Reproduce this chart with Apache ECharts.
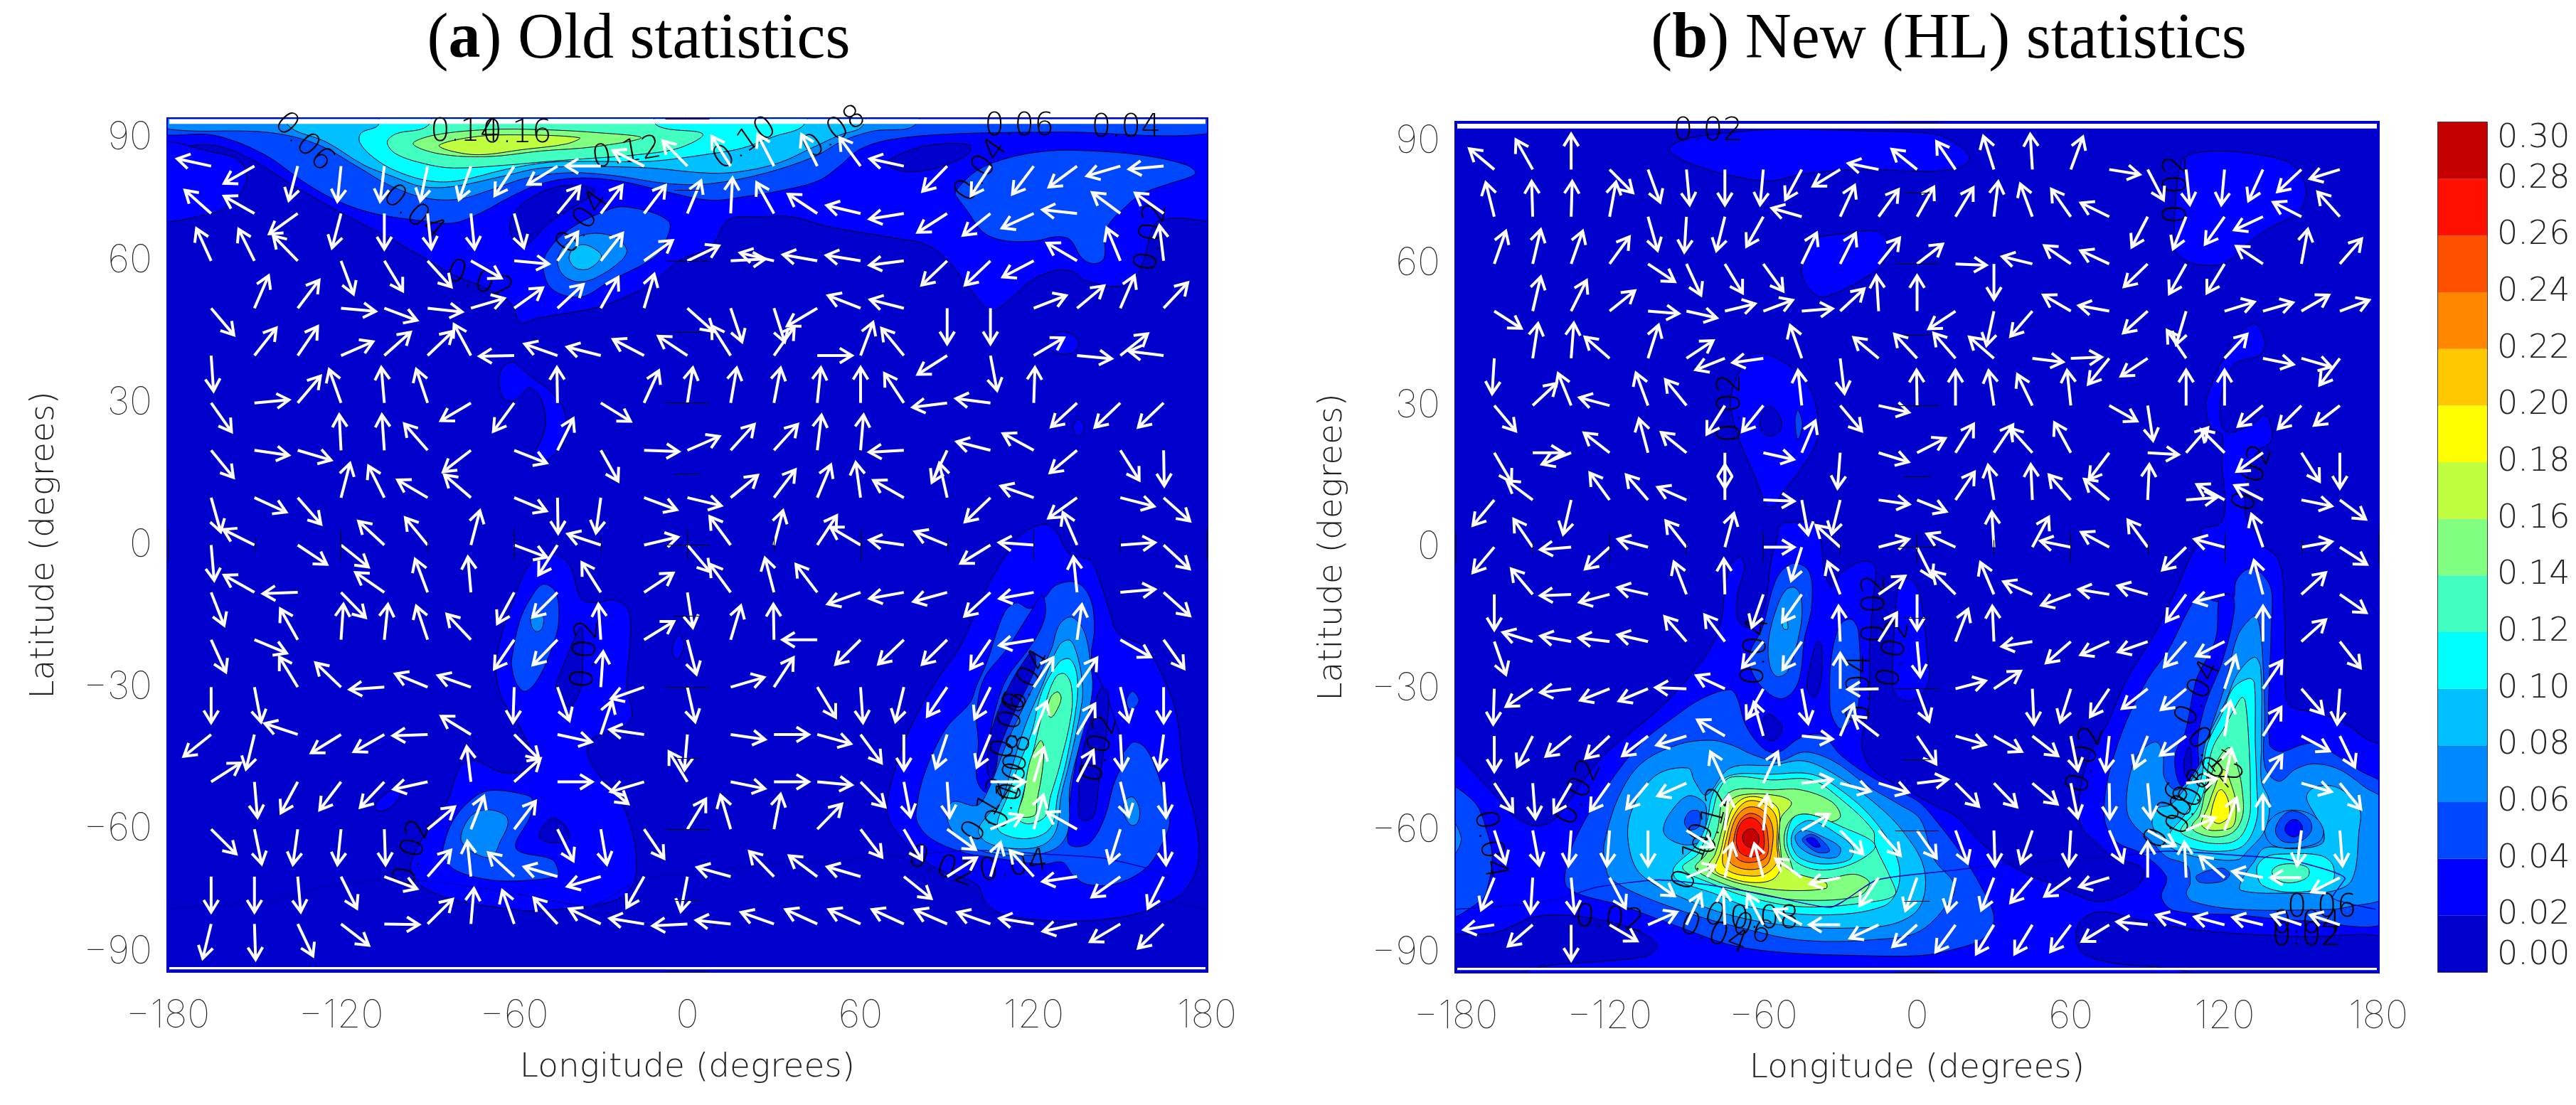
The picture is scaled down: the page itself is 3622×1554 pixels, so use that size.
<!DOCTYPE html>
<html>
<head>
<meta charset="utf-8">
<title>Old and new statistics</title>
<script src="https://cdn.jsdelivr.net/npm/echarts@6/dist/echarts.min.js"></script>
<style>
  html, body { margin: 0; background: #fff; }
  #chart { width: 3622px; height: 1554px; }
</style>
</head>
<body>
<div id="chart"></div>
<script>
var lonTails = [-165,-150,-135,-120,-105,-90,-75,-60,-45,-30,-15,0,15,30,45,60,75,90,105,120,135,150,165];
var latTails = [80,70,60,50,40,30,20,10,0,-10,-20,-30,-40,-50,-60,-70,-80];

// arrow headings in degrees, one row per latitude
var headingsA = [
  [168,209,255,264,263,258,250,236,211,180,154,135,123,118,117,127,168,225,236,232,216,196,185],
  [139,151,215,255,270,276,276,286,50,52,52,67,87,120,147,167,189,212,218,204,174,144,145],
  [115,117,135,291,302,313,331,355,54,51,35,25,3,167,170,171,187,223,223,207,150,113,97],
  [311,66,52,355,340,354,16,35,42,60,73,319,289,288,210,159,166,270,270,21,39,66,46],
  [274,51,55,23,41,43,119,181,161,166,153,147,123,54,0,69,130,212,281,30,355,38,173],
  [306,5,49,110,95,109,210,233,91,329,65,81,80,79,84,90,124,187,173,88,222,223,223],
  [310,352,344,93,94,132,217,339,63,300,358,23,47,47,83,85,183,244,166,152,219,303,271],
  [286,336,312,75,117,150,140,338,271,262,340,347,39,52,67,98,151,103,223,161,215,346,319],
  [275,154,327,322,138,130,75,340,237,162,13,311,127,75,56,150,172,158,211,176,114,4,318],
  [292,151,182,315,146,111,95,241,224,123,33,279,127,105,128,199,190,195,222,190,96,5,319],
  [295,338,120,86,84,109,134,235,225,94,31,285,73,91,180,224,223,224,235,189,82,331,306],
  [270,281,122,137,184,158,161,268,290,86,199,283,16,56,302,274,256,235,243,56,55,284,270],
  [218,256,162,211,209,182,149,316,348,71,172,265,352,0,345,307,270,251,247,68,59,273,262],
  [32,275,241,232,226,192,97,41,0,322,196,122,349,0,355,315,281,274,0,73,62,284,274],
  [316,282,262,264,272,39,68,52,297,280,305,58,107,79,45,308,301,325,23,74,151,252,274],
  [270,270,275,297,340,48,96,138,164,196,240,259,165,135,144,164,322,32,73,133,188,215,243],
  [256,272,296,323,359,44,85,110,133,155,171,183,174,161,156,156,156,157,161,171,192,210,223]
];
var headingsB = [
  [144,123,90,319,293,276,270,264,238,208,170,145,128,110,94,67,352,301,277,264,242,219,195],
  [106,92,88,78,288,266,254,237,166,62,50,57,55,82,113,129,157,239,245,231,202,156,136],
  [68,75,68,50,330,298,305,310,61,60,47,34,358,270,168,149,158,220,237,235,150,78,45],
  [331,75,60,35,356,349,12,18,4,39,94,90,210,256,225,153,171,218,251,15,14,27,18],
  [266,80,85,143,70,30,199,187,112,278,144,137,135,143,354,2,227,210,128,43,350,346,229],
  [314,39,115,167,113,133,234,227,97,314,349,91,90,100,119,97,334,280,90,90,216,221,214],
  [304,0,199,146,107,145,270,349,64,265,345,24,54,52,136,122,229,357,45,139,212,306,270],
  [226,147,255,130,135,159,90,358,282,254,353,341,52,101,93,135,144,87,4,154,156,350,327],
  [226,128,184,218,167,132,73,0,250,142,13,300,158,94,58,170,155,130,220,167,112,9,331],
  [270,134,182,193,169,114,92,248,231,114,31,270,139,116,159,198,172,166,230,192,107,38,329],
  [292,165,171,174,169,135,131,227,232,93,54,276,66,93,188,217,202,197,225,204,90,38,312],
  [268,210,186,199,200,178,158,237,282,90,181,293,13,30,273,250,232,214,216,69,52,315,265],
  [270,240,215,219,214,195,153,108,355,64,146,308,346,334,326,283,263,245,213,79,54,335,299],
  [307,275,236,231,226,201,118,62,6,347,345,6,319,318,324,283,271,276,7,77,52,346,313],
  [291,282,265,265,270,332,83,83,27,318,315,309,293,272,248,266,296,334,21,67,90,262,275],
  [245,266,276,301,329,20,76,107,148,190,232,248,255,246,225,212,195,90,93,143,170,180,204],
  [188,217,270,333,21,62,93,121,154,180,202,218,230,235,235,229,208,175,164,167,168,164,164]
];

var bandColors = ['#0000CC','#0000FF','#0048FF','#0088FF','#00C0FF','#00FFFF','#40FFC0','#80FF80','#BFFF40','#FFFF00','#FFC800','#FF8800','#FF5000','#FF1000','#C40000'];
var barTicks = [0,0.02,0.04,0.06,0.08,0.10,0.12,0.14,0.16,0.18,0.20,0.22,0.24,0.26,0.28,0.30];

// filled contours: [band, [[lon,lat],...]], painted in order
var contoursA = [
  [1,[[-185,84.7],[-164,84.4],[-151,81.4],[-136,75.7],[-120,70.2],[-106,65.7],[-91,60.6],[-81,57],[-71,54.6],[-61,51],[-58,47],[-52,47.9],[-35.5,49.6],[-27,51],[-13,55],[-3,60],[8,63],[14.3,68.7],[25,69.3],[36,69.3],[49,67.2],[72,64.8],[82,63.6],[89.5,60.6],[98,54],[105,49.6],[110,51],[119,55.8],[128,58],[134,57.6],[138,55.8],[150,54.6],[155,56.4],[158,60],[162,67.8],[168,69],[185,69.6],[185,95],[-185,95]]],
  [2,[[-185,87.4],[-164,86.5],[-147,82.6],[-132,76.3],[-121,72.6],[-108.5,70],[-91,68.4],[-81,68],[-72,70],[-61,73.6],[-50.6,76.3],[-38,77.5],[-23,76.8],[-6.6,74.5],[8,72.8],[20.2,73.6],[32.2,74.8],[45.3,76.9],[52.5,79.9],[59.6,83.5],[70.4,85.6],[92,86.8],[127.7,87.2],[185,87.4],[185,95],[-185,95]]],
  [3,[[-185,88.6],[-145,87.1],[-128.6,84.7],[-113.5,79.6],[-103.4,76],[-91,73.3],[-79.5,73],[-68,75],[-55.7,77.5],[-40.6,78.6],[-25.5,78],[-6.6,76.3],[8,76.3],[26.2,78.4],[44,82],[53.7,85.3],[64.4,87.4],[78.7,88.6],[80,95],[-185,95]]],
  [4,[[-138.6,88.8],[-124.8,85],[-112,80.2],[-102,77.8],[-92,75.7],[-81,75.7],[-63,78],[-50.6,79.6],[-32,79.9],[-13,79.6],[8,78.5],[20,79],[32.2,80.8],[43,83.8],[52.5,86.5],[60.8,88.6],[61,95],[-138,95]]],
  [5,[[-107,88.8],[-113,87],[-113.5,85],[-108.5,81.7],[-101,79],[-89.6,76.9],[-79.5,76.9],[-63,79.3],[-48,80.8],[-32,81],[-13,81],[8,82.6],[19,83.8],[29.8,86.2],[40.5,88.8],[41,95],[-107,95]]],
  [6,[[-101,86.8],[-104,85],[-101,82.6],[-91,80.5],[-81,79.6],[-63,80.2],[-48,81],[-32,81.7],[-19,82.3],[-3,83.8],[5.3,86.8],[-11,88.8],[-11,95],[-85,95],[-90,88.5]]],
  [7,[[-95,84.7],[-88,86.5],[-69.5,87.7],[-50.6,87.7],[-32,87.1],[-16,86],[-32,84.1],[-50.6,83.2],[-69.5,82],[-86,82.6]]],
  [8,[[-86,84.4],[-76,86],[-63,86.6],[-37.4,86],[-41.8,84.7],[-57,83.5],[-72,82.4],[-82,83.2]]],
  [0,[[69.2,80.8],[75.2,82.9],[84.7,84.5],[97.9,84.5],[97.3,82.6],[89.5,80.2],[78.7,78.8],[71.6,79.4]]],
  [2,[[93,74.8],[100.2,79],[111,81.7],[125.3,83.2],[139.6,83.2],[157.5,82.3],[173,80.2],[176,78.4],[167,76.3],[158.7,74.5],[152.8,72],[145,66.6],[144.4,60.6],[140.8,59.4],[136.7,60.6],[132.5,64.5],[127.7,65.1],[120.5,64.2],[109.8,64.3],[102.6,66],[96.7,70.8],[93,73.9]]],
  [0,[[-40.6,76],[-32,75],[-34.3,73.3],[-46.9,68.4],[-57,63],[-61.3,66],[-60,70.2],[-50.6,74.5]]],
  [1,[[-185,84.4],[-164,82.9],[-155,81],[-152.7,77.2],[-157.5,72.6],[-165,70],[-185,69.3]]],
  [2,[[-21.7,71.4],[-6.6,68.4],[-7.9,63.6],[-11.7,60.6],[-26.7,55.8],[-36.8,52.4],[-46.8,54],[-50,58.8],[-48,62.4],[-41,66.6],[-30.5,70]]],
  [3,[[-45,60],[-42,63.6],[-34.3,65.7],[-25.5,65.1],[-21,62.4],[-23,60],[-31.8,56.4],[-38,55.6],[-43,57]]],
  [4,[[-41,60.6],[-39.3,62.7],[-35.5,63.4],[-30.5,61.8],[-29.9,60.6],[-34.3,58.3],[-38.7,58.5]]],
  [1,[[-65,33.2],[-64.5,37],[-60.7,38.6],[-57,37],[-53.8,35.3],[-48,32.8],[-42.5,28],[-43,21.4],[-49.4,17.8],[-53.8,17.8],[-49.4,24.4],[-50,29.8],[-54.4,33.2],[-59.4,30.7],[-63.2,30.7]]],
  [1,[[124.7,42.5],[126.5,44.3],[129.5,45],[133.7,44.3],[135.5,42.5],[133.7,40.7],[127.7,40.6]]],
  [1,[[133.7,25],[135.5,26.6],[137.3,25.3],[137,23.8],[135,23.2]]],
  [1,[[-55.7,-5.1],[-52,-2.4],[-45.6,-2],[-40.6,-4.5],[-36.8,-11.3],[-31.8,-12.2],[-25.5,-11.6],[-20.5,-13.7],[-19.8,-20.5],[-21,-29.7],[-19.2,-35.8],[-21.7,-38.2],[-29.2,-39.8],[-33.7,-41.3],[-34.5,-44.4],[-30.5,-48.7],[-24.2,-53],[-19.2,-60.3],[-17.7,-68.9],[-20.5,-73.2],[-28,-75.6],[-44.3,-76.9],[-55.7,-77.2],[-69.5,-76.2],[-82,-74.7],[-92,-72],[-95.9,-68.3],[-94.6,-65.2],[-89.6,-59.7],[-83.3,-54.2],[-78.3,-46.5],[-73.3,-45.6],[-64.5,-48],[-58.2,-48],[-52,-46.2],[-55.7,-41.3],[-59.4,-37],[-64.5,-32],[-66.3,-26],[-64.5,-19.2],[-60.7,-12.5],[-58.2,-8.2]]],
  [0,[[-45.6,-29.7],[-42.5,-24.7],[-36.8,-17.4],[-36.2,-23.5],[-36.8,-29.7],[-40,-34],[-42.5,-33.6],[-45,-30.9]]],
  [0,[[-51.3,-61],[-49.4,-58.8],[-46.2,-57.7],[-41.8,-59.7],[-41.2,-62],[-46.9,-62.9],[-50.9,-62]]],
  [1,[[-107.8,-54.5],[-103.4,-52],[-99,-51.4],[-100.9,-54.2],[-104.7,-56],[-107.8,-56]]],
  [1,[[-5.1,-21.4],[-3.1,-19.1],[-1.2,-20.5],[-2.9,-24.1],[-4.7,-23.5]]],
  [2,[[-60.7,-23.5],[-58.2,-16.2],[-54.4,-11.3],[-50,-8.3],[-45.6,-10],[-44.6,-16.2],[-46.9,-21.7],[-51.9,-28.4],[-56.3,-30.9],[-59.4,-29],[-60.9,-25.4]]],
  [3,[[-54,-15],[-50.2,-14.8],[-50.2,-17.4],[-52,-18.3],[-53.8,-17.4]]],
  [2,[[-84.6,-64],[-80.8,-57.8],[-73.3,-53],[-67.6,-51.8],[-57,-52.6],[-53.8,-53.6],[-54.4,-57.2],[-59.4,-64],[-46.9,-66.4],[-45,-68.3],[-45,-69.8],[-55.7,-70.8],[-68.2,-70.7],[-79.5,-68.9],[-84,-66.4]]],
  [3,[[-78.5,-62],[-75,-57.2],[-69.5,-55.9],[-63.2,-57],[-62.2,-59],[-65,-62.8],[-67,-65.5],[-69.5,-66],[-75,-64.6]]],
  [1,[[123.5,4.4],[127.7,2.8],[132.5,-2],[139.6,-3.3],[143.2,-8.2],[146.8,-15],[149.2,-18.6],[158.7,-21.7],[164.7,-27.8],[169.5,-35.8],[171.9,-48],[176.7,-60.3],[176.7,-67.7],[171.9,-73.2],[163.5,-76.2],[151.6,-78.4],[134.9,-79.4],[119.3,-79],[108.6,-77.8],[103.2,-75.3],[100.2,-71.6],[84.7,-67.7],[72.8,-60.9],[69.2,-56],[71.6,-48],[77.6,-38.2],[85.9,-29],[94.3,-21.7],[100.2,-13.7],[105,-7.6],[109.8,-2.7],[115.8,2.2]]],
  [2,[[79.3,-56],[82.3,-48],[89.5,-38.8],[97.9,-33.3],[100.2,-29.7],[103.8,-24.7],[109.8,-14.3],[114,-12.2],[118.7,-13.4],[123.5,-11.3],[127.7,-8.5],[134.9,-7.9],[139.6,-11.3],[141,-17.4],[140.2,-24.7],[150.4,-43.7],[154.6,-41.6],[159,-43.1],[163.5,-49.3],[167.1,-57.8],[164.7,-62.8],[158.7,-68.3],[148,-71.6],[138.4,-71.6],[133.7,-69.8],[130,-67],[122.9,-67.4],[103.8,-65.8],[95.5,-64.9],[84.7,-62.1],[80,-59]]],
  [1,[[118.7,-14.3],[122.9,-10.6],[124.1,-14.3],[121.7,-18.6],[117,-22.9],[111,-27.8],[107.4,-33.3],[105,-40.7],[106.8,-48],[111,-49.9],[103.8,-52.3],[100.2,-49.3],[100.8,-41.9],[100.2,-35.8],[102.6,-28.4],[111,-21.7]]],
  [0,[[103.8,-47.4],[105,-40],[111,-30.3],[118.1,-23.2],[120,-22.6],[120.5,-26],[113.4,-35.2],[108,-43.1],[106.8,-47.4],[105,-49]]],
  [1,[[131.9,-62.8],[132.5,-54.2],[134.9,-45],[137.8,-35.8],[140.2,-26],[151,-43.7],[147.4,-51.1],[144.4,-57.8],[139.6,-62.8],[134.9,-63.7]]],
  [0,[[135.5,-56.6],[136.7,-45],[140.2,-35.8],[143.2,-30.3],[145.6,-30.9],[145.6,-37],[142.6,-49.9],[140.8,-57.2],[137.3,-58.2]]],
  [3,[[151,-56],[152.2,-53.6],[154.6,-53.3],[156.7,-56],[155.8,-58.8],[153.4,-59]]],
  [2,[[152.2,-32.7],[154.2,-30.9],[156.4,-32.7],[154.9,-34.4],[153,-34.6]]],
  [3,[[90,-57.8],[91.9,-54.2],[100.2,-55],[103.8,-52.3],[111,-41.3],[118.1,-32.1],[125.9,-22.3],[128.9,-16.8],[133,-15.2],[137.3,-18],[139.6,-24.7],[140.2,-31.5],[135.5,-43.1],[132.5,-51.1],[131.9,-60.3],[127.7,-64],[118.1,-65.5],[103.8,-64.9],[94.3,-62.1]]],
  [4,[[100.8,-60.3],[103.8,-57.2],[108.6,-54.2],[112.2,-47.4],[117,-38.2],[122.9,-29.7],[128.9,-21.1],[132.5,-20.1],[134.9,-22.9],[136.7,-28.4],[136.7,-33.3],[132.5,-45.6],[129.5,-52.9],[127.7,-60.3],[122.9,-63.4],[113.4,-64.1],[103.8,-62.8]]],
  [5,[[107.4,-59.7],[111,-52.9],[114.6,-46.8],[119.3,-39.5],[122.9,-30.9],[128.9,-24.7],[132.5,-24.1],[134.9,-27.2],[134.9,-33.3],[131.3,-45.6],[128.3,-52.9],[126.5,-59],[121.7,-61.5],[113.4,-61.8]]],
  [6,[[114.6,-57.2],[116.4,-52.3],[120.5,-41.9],[124.1,-33.3],[127.7,-27.8],[130.7,-27.2],[133,-29.7],[133,-35.8],[128.9,-46.8],[125.9,-52.9],[124.1,-57.2],[119.3,-58.8],[115.8,-58.5]]],
  [7,[[114.6,-56.9],[116.4,-52.9],[118.7,-45.6],[122.3,-41.3],[123.5,-42.5],[122.9,-48],[121.1,-54.2],[120.5,-56.9],[117,-57.5]]],
  [7,[[124.7,-35.2],[125.9,-32.1],[128.3,-31],[129.5,-32.4],[127.7,-35.2],[125.9,-36.4]]]
];

var contoursB = [
  [1,[[-96.5,84.5],[-89.4,86.6],[-65.3,88.2],[-51.1,88.6],[-22.8,88.2],[5.5,87.6],[13.6,86],[20.4,82.7],[17.3,80.6],[7.4,79.7],[-1.6,79.7],[-22.8,80],[-44,79.1],[-56.8,77.6],[-71,78.5],[-85,80.6],[-93.6,82.7]]],
  [1,[[-44.8,60],[-41.2,64.9],[-28.5,66.4],[-15.7,66.9],[-11.8,64.9],[-12.9,60.6],[-18.6,57.6],[-36.3,53],[-42,54.6],[-44.8,57.6]]],
  [1,[[-69.5,37],[-66.7,39.5],[-61.8,41.1],[-51.1,38.9],[-42,33.7],[-38.8,28],[-39.1,22.5],[-45.5,16.5],[-52.5,11.6],[-56.1,8.6],[-58.9,8.9],[-62.5,14],[-68.8,21.9],[-72.4,28.6],[-72.4,32.8]]],
  [0,[[-61.3,26.8],[-59.6,29.2],[-56.8,29.8],[-53.3,27.3],[-53.3,24.9],[-56.8,23.5],[-60.3,24.3]]],
  [2,[[-47.6,26.7],[-46.5,29],[-44.8,26.1],[-46.5,22.8]]],
  [1,[[104.7,82.7],[116.5,83.9],[131.3,83.3],[143.7,81.8],[149.3,79.4],[151.8,75.2],[148.7,70.9],[137.5,67.6],[128.9,64.3],[120.2,60.3],[112.7,59.7],[105.3,60.6],[101,62.7],[100.4,67.9],[101,73.9],[102.2,79.4]]],
  [1,[[-185,-43.4],[-164.4,-52.7],[-157.3,-57],[-148,-59.1],[-140.3,-57],[-130.4,-49.6],[-122,-44],[-110.6,-38.8],[-99.3,-33.6],[-85.1,-25],[-78.8,-19.5],[-75.9,-13.9],[-75.2,-9.6],[-73.1,-4.1],[-69.1,-2.1],[-67.4,-4.1],[-70.3,-10.8],[-69.5,-15.8],[-64.6,-17],[-59.6,-12.7],[-56.8,-2.2],[-54.7,1.45],[-53.3,4.7],[-46.9,5.3],[-39.8,5.3],[-37.7,2.5],[-36.3,-4.7],[-33.4,-8.4],[-29.9,-5.6],[-21.4,-3],[-16.4,-4.1],[-17.2,-10.8],[-18.6,-23.2],[-18.6,-33],[-20.7,-37.9],[-21.4,-42.8],[-17.2,-47.1],[-4.4,-51.4],[8.3,-55.1],[15.1,-57],[26,-63.1],[38.4,-68],[59.5,-73],[70.6,-75.1],[80.5,-73.6],[88,-70.5],[88,-68],[75.6,-65.3],[70.6,-62.8],[64.4,-59.4],[63.2,-53.9],[66.9,-44.7],[74.3,-37.3],[81.8,-28.1],[92.9,-18.2],[101.6,-8.4],[106.6,-2.2],[110.3,1.45],[111.5,3.8],[118.3,5],[120.2,8.6],[119,17.7],[119,23.7],[114.6,25.5],[112.8,29.2],[113.4,32.2],[119.6,40],[125.1,44.9],[131.3,47.3],[133.8,46.4],[135.7,43.1],[133.8,40.7],[123.9,38.8],[119,32.8],[118.3,28],[119.6,24.9],[123.3,24.3],[132.6,26.7],[135,28],[137.5,27],[138.2,22.5],[132.6,20.1],[128.9,14.6],[128.2,6.8],[132.6,2.6],[134.4,0.8],[141.2,-2.9],[143.1,-10.9],[143.7,-23.2],[144,-31.8],[146.2,-33.9],[156.1,-35.1],[166,-37],[174.7,-40.4],[185,-44],[185,-95],[-185,-95]]],
  [0,[[-185,-83.3],[-164.4,-81.6],[-150.3,-78.5],[-139,-77.9],[-122,-79.1],[-107.8,-81.6],[-101.4,-84.3],[-105,-86.5],[-122,-87.7],[-147.4,-89],[-185,-95]]],
  [0,[[62,-82.8],[63.2,-79.7],[68.2,-77.6],[74.3,-77.3],[88,-79.1],[112.7,-81.3],[150,-82.5],[185,-83.4],[185,-95],[92.9,-88.9],[75.6,-88],[64.4,-85.9]]],
  [2,[[-185,-50.5],[-172.9,-53.9],[-168,-60],[-165.8,-65.6],[-167.2,-71.1],[-170,-74.8],[-185,-78.2]]],
  [3,[[-185,-55.7],[-177.9,-61.9],[-185,-67.5]]],
  [2,[[-136.8,-67.4],[-131.8,-60],[-122,-51.4],[-107.8,-41.6],[-93.6,-35.5],[-83.7,-32],[-73,-30.2],[-70.3,-31.8],[-66.7,-37.9],[-59.6,-42.8],[-54,-43.4],[-45.5,-40.4],[-37,-39.8],[-29.9,-44],[-18.6,-48.4],[-5.8,-52],[1.24,-54.2],[8.7,-58.8],[17.3,-65],[24.8,-71.7],[30,-78.5],[26,-82.8],[13.6,-85.3],[1.2,-86.5],[-22.8,-86.5],[-51.1,-85.9],[-72.4,-84.3],[-93.6,-80.3],[-114.9,-76],[-136.1,-72.3]]],
  [2,[[-60.3,-17],[-56.8,-9.6],[-53.3,-5.3],[-47.6,-3.4],[-42,-5.3],[-41.2,-12.7],[-44,-19.5],[-45.5,-26.8],[-48.3,-30.5],[-53.3,-32.1],[-59.6,-30.2],[-64.6,-26.2],[-65.3,-22.5]]],
  [3,[[-57.9,-19.5],[-54.7,-12.7],[-51.1,-9],[-47.6,-8.6],[-45.2,-10.8],[-45.5,-17],[-50.4,-26.2],[-54.7,-27.4],[-57.5,-25]]],
  [4,[[-52.6,-15.5],[-51.1,-15.2],[-50.4,-17.3],[-52.1,-17.3]]],
  [0,[[-42.6,-27.4],[-39.1,-20.1],[-37.3,-20.7],[-37.3,-27.4],[-39.8,-31.8],[-42.6,-30.5]]],
  [0,[[-61,-37.9],[-58.2,-35.4],[-53.3,-37.3],[-53.3,-39.8],[-56.8,-41],[-60.3,-39.8]]],
  [2,[[-34.1,-31.8],[-33.4,-23.2],[-29.9,-16.4],[-25.6,-15.3],[-22.8,-18.2],[-22.8,-33],[-26.4,-37.3],[-29.9,-38.5],[-33.4,-35.5]]],
  [1,[[-9.4,-29.3],[-8,-10.8],[-5.8,-6.9],[-1.6,-7.2],[1.3,-10.8],[4.1,-23.2],[4.1,-29.3],[-2.3,-32.5],[-7.3,-31.8]]],
  [3,[[-122,-62.5],[-116.3,-52.7],[-107.8,-45.9],[-93.6,-41.9],[-80.9,-40.9],[-72.4,-41.9],[-63.9,-44],[-54,-45.3],[-44,-43.4],[-32.7,-45.3],[-18.6,-50.8],[-7,-54.5],[1.2,-57.6],[6.8,-66.2],[14.3,-71.1],[13.6,-74.2],[1.2,-81.3],[-15.7,-83.1],[-44,-83.3],[-65.3,-81.1],[-93.6,-76.7],[-119.1,-70.5],[-122,-66.2]]],
  [4,[[-112.7,-62.5],[-111.3,-55.7],[-102.1,-48.4],[-89.4,-46.8],[-86.8,-49.6],[-82.3,-52.5],[-73,-46.8],[-56.8,-46.2],[-44,-45.3],[-31.3,-48.4],[-17.2,-53.9],[-5.8,-60],[2.7,-68],[1.3,-76],[-8.6,-79.7],[-27,-80.7],[-48.3,-80.3],[-71,-78.2],[-89.4,-74.8],[-107.8,-69.3]]],
  [3,[[-99,-60],[-96.5,-56.4],[-89.4,-52.7],[-83,-54.2],[-82.3,-57.6],[-83.7,-61.9],[-89.4,-63.1],[-96.5,-61.9]]],
  [2,[[-90.8,-58.2],[-88.7,-56],[-85.1,-56],[-85.1,-59.1],[-88.7,-59.9]]],
  [5,[[-95,-68],[-86.5,-63.4],[-82.3,-58.8],[-79.5,-52],[-73.1,-48.4],[-56.8,-48.1],[-41.2,-48.1],[-29.9,-51.4],[-17.2,-57.6],[-8,-65.6],[-7.2,-71.7],[-12.9,-76],[-37,-77.9],[-65.3,-76.2],[-79.5,-73.3],[-93.6,-70.5]]],
  [6,[[-91.5,-68],[-85.1,-64.7],[-80.2,-57],[-77.3,-51.4],[-72.4,-48.7],[-56.8,-49.3],[-41.2,-49.3],[-29.9,-53.3],[-17.2,-60],[-16.4,-63.1],[-10,-70.5],[-8.6,-73.6],[-17.2,-75.1],[-44,-76.2],[-65.3,-74.2],[-79.5,-71.4]]],
  [7,[[-86.5,-68],[-82.3,-65],[-78,-60],[-75.9,-53.9],[-71,-51.4],[-56.8,-51.4],[-45.5,-51.4],[-33.4,-53.9],[-29.9,-57],[-34.2,-58.2],[-41.2,-56.7],[-47.6,-57],[-51.1,-59.4],[-51.8,-63.1],[-49.7,-66.2],[-46.9,-69.3],[-35.6,-70.2],[-24.2,-69.3],[-18.6,-71.1],[-22.8,-73.9],[-44,-74.8],[-61,-73.6],[-76.6,-71.1]]],
  [5,[[-50.4,-60],[-47.6,-57],[-41.2,-56.7],[-29.9,-59.1],[-16.4,-63.1],[-24.2,-66.8],[-37,-68.4],[-46.9,-66.8],[-50.4,-63.7]]],
  [4,[[-49,-61.3],[-46.9,-59.1],[-41.2,-57.9],[-31.3,-60.7],[-25,-63.7],[-26.4,-66.2],[-37,-67.1],[-45.5,-65.9],[-48.6,-63.7]]],
  [3,[[-47.6,-61.3],[-44.3,-60],[-37,-61.3],[-29.9,-63.7],[-31.3,-65.6],[-38.4,-65.6],[-45.5,-63.7]]],
  [2,[[-44.8,-61.9],[-41.2,-60.8],[-36.3,-62.5],[-34.2,-64.4],[-38.4,-64.7],[-42.6,-63.4]]],
  [1,[[-43.2,-61.9],[-40.3,-61.6],[-37.8,-63.4],[-40.3,-63.4]]],
  [8,[[-81.6,-68],[-78.8,-65],[-75.9,-59.4],[-73.1,-53.9],[-67.4,-52.4],[-54,-52.7],[-49,-54.2],[-53.3,-57.6],[-53.3,-63.7],[-51.1,-68],[-35.6,-71.1],[-35.6,-72.3],[-51.1,-72.7],[-65.3,-71.7],[-75.2,-70.2]]],
  [9,[[-78.8,-68.4],[-76.6,-64.4],[-74.5,-59.4],[-71.7,-55.1],[-66.7,-53],[-59.6,-53.3],[-54,-55.7],[-54.2,-63.1],[-53.3,-68],[-56.8,-70.5],[-65.3,-71],[-73.8,-69.9]]],
  [10,[[-75.9,-66.8],[-74.5,-61.9],[-71.7,-57],[-66.7,-53.9],[-60.3,-54.2],[-55.1,-57],[-54.7,-63.1],[-54.7,-66.8],[-59.6,-69.3],[-66.7,-69.6],[-73.1,-68.7]]],
  [11,[[-73.8,-65.6],[-73.1,-61.3],[-70.3,-57],[-66,-55.1],[-60.3,-55.7],[-56.5,-59.1],[-56.8,-64.4],[-58.9,-67.4],[-65.3,-68.3],[-71.7,-67.4]]],
  [12,[[-71.7,-63.1],[-69.5,-58.2],[-65.3,-56.4],[-60.3,-57.6],[-58.2,-61.3],[-58.9,-65.6],[-65.3,-66.8],[-70.3,-65.9]]],
  [13,[[-70.5,-61.3],[-68.4,-58.2],[-64.6,-57.3],[-61,-58.8],[-59.6,-62.5],[-61,-65],[-65.3,-65.6],[-69.5,-64.4]]],
  [14,[[-68.1,-61.3],[-66.7,-60],[-63.9,-59.7],[-61.7,-61.3],[-62.5,-63.4],[-65.3,-63.6],[-67.4,-62.8]]],
  [2,[[73.1,-53.9],[75.6,-46.5],[81.8,-36.7],[90.5,-27.5],[97.9,-21.9],[107.8,-11.5],[111.5,-10.2],[116.5,-11.5],[123.3,-10.9],[124.5,-7.2],[128.9,-4.7],[133.8,-5.3],[138.2,-9],[138.2,-17],[137.5,-41.6],[141.9,-43.3],[149.9,-41.9],[154.9,-41.6],[163.5,-44],[172.2,-47.1],[185,-52],[185,-78.5],[149.9,-79.1],[125.1,-77.9],[100.4,-77],[95.4,-74.2],[97.3,-69.9],[88,-65],[78,-62.5],[73.7,-58.8]]],
  [1,[[118.3,-10.2],[123.3,-10.5],[123.3,-15.2],[119,-24.4],[112.7,-33],[109.7,-40.4],[109.7,-47.8],[106.6,-49.9],[103.5,-50.8],[101,-47.8],[101,-43.4],[104.7,-39.1],[109,-28.1],[116.5,-19.5]]],
  [0,[[104.1,-46.5],[104.7,-44],[106.3,-42.3],[107.2,-44.7],[106.6,-47.1],[105,-48.7]]],
  [3,[[81.8,-52.7],[84.3,-45.9],[88,-42.8],[93.5,-41.3],[96,-44],[96.6,-49],[101.6,-51.4],[110.3,-45.9],[113.4,-40.4],[120.2,-29.3],[125.1,-18.8],[130.7,-14.8],[132.6,-14.7],[134.4,-19.5],[135.7,-35.4],[135.7,-46.5],[141.2,-49.6],[147.5,-47.1],[154.9,-45.9],[164.8,-47.1],[174.7,-50.8],[185,-55],[185,-73],[167.3,-76.3],[156.1,-76.8],[125.1,-76.7],[107.8,-75.1],[105.1,-73.3],[106.6,-71.1],[105.3,-67.4],[97.3,-65.6],[91.7,-62.5],[83,-57.6]]],
  [2,[[109,-69.6],[119,-68],[122,-69.3],[119,-70.8],[110.3,-71]]],
  [4,[[127,-70.2],[126.4,-72.7],[147.4,-73.3],[161,-73],[169.7,-70.5],[172.5,-60],[172.8,-55.7],[167.3,-52],[161,-50.5],[154.3,-51.1],[152,-53],[154.9,-56.4],[158.6,-60],[158,-62.8],[147.4,-63.9],[135.7,-63.7],[131.3,-66.8]]],
  [3,[[135.7,-60],[140,-56.7],[147.4,-55.7],[154.9,-57],[158.6,-60],[156.7,-62.5],[147.4,-63.7],[138.8,-63.1]]],
  [2,[[140,-59.4],[143.1,-56.7],[147.4,-55.9],[153,-57.6],[153.9,-60],[149.9,-62.2],[143.7,-62.5],[140.6,-61.3]]],
  [1,[[143.5,-59.7],[145.6,-57.9],[148.7,-57.9],[150.5,-59.7],[148,-61.3],[145,-61]]],
  [5,[[132.6,-68],[136.3,-65.6],[143.7,-65],[157.3,-65.3],[162.3,-67.4],[161.7,-71.1],[148.7,-73.1],[135,-71.7]]],
  [6,[[138.5,-68.7],[141.2,-67.4],[147.4,-67.1],[152.6,-68],[152.4,-69.9],[146.2,-71.1],[140.6,-70.5]]],
  [4,[[91.7,-58.2],[93.5,-55.4],[99.1,-54.5],[104.1,-51.4],[110.3,-46.5],[112.8,-41],[120.2,-33],[125.1,-26.8],[131.6,-23.3],[134.1,-25.6],[134.4,-41.6],[134.4,-49.6],[137.5,-53.9],[135.7,-60],[128.9,-64.4],[125.1,-66.2],[112.7,-65.9],[106.6,-65.3],[99.1,-63.7],[93.5,-60.7]]],
  [5,[[98.5,-61.3],[104.1,-57],[107.8,-53.9],[110.9,-49],[113.4,-41.6],[119,-35.4],[123.3,-29.9],[129.5,-27.8],[131.6,-28.7],[132,-41.6],[132.6,-50.8],[132.6,-57.6],[127.6,-63.1],[119,-64.4],[106.6,-63.7]]],
  [6,[[102.8,-60],[109,-55.7],[112.1,-51.4],[115.2,-42.8],[120.2,-37.9],[125.1,-33],[127,-31.8],[128.2,-33],[129.5,-41.6],[130.1,-52],[129.5,-57.6],[125.1,-61.9],[116.5,-62.8],[106.6,-61.6]]],
  [7,[[107.2,-59.1],[110.3,-56.7],[112.7,-51.4],[117.7,-44.7],[122,-42.5],[125.1,-46.5],[127,-52],[127,-57],[123.3,-60.4],[116.5,-61.4],[109,-60.4]]],
  [8,[[110.9,-58.5],[113.4,-55.1],[115.8,-51.4],[119.6,-47.1],[123.3,-51.4],[124.5,-55.1],[123.3,-59.1],[117.7,-60],[112.7,-59.7]]],
  [9,[[114.6,-57],[117.1,-52],[119,-51.4],[121.4,-53.6],[121.7,-57],[118.3,-58.5],[115.9,-58.2]]]
];

var coastline = [[-180,-76.7],[-147.4,-75.4],[-136,-73.9],[-124.8,-72],[-100.7,-70.5],[-79.5,-71.7],[-59.6,-73.6],[-34.2,-76.3],[-15.7,-70.5],[15,-68.4],[29.7,-67.4],[80.5,-65.3],[97.9,-64.4],[125,-65.3],[145,-66.2],[167,-70.2],[162,-74.2],[179,-76.7]];

// contour labels: text, lon, lat, rotation
var labelsA = [
  ['0.14',-77,87,0],['0.16',-59,86.8,0],['0.06',-133,85,-45],['0.12',-21,82.6,10],['0.10',20,84.7,35],['0.08',51,87,35],
  ['0.06',115,88.3,0],['0.04',152,88,0],['0.04',-95,70,-40],['0.04',-36,68,55],['0.02',-72,55.6,-20],['0.04',102,79,55],
  ['0.02',161,65,80],['0.02',-35,-23,85],['0.02',-95,-65,75],['0.02',88,-68,-20],['0.04',113,-68,10],['0.02',143,-43,75],
  ['0.04',118,-29,60],['0.06',112,-38,75],['0.08',114,-47,80],['0.10',111,-53,70],['0.12',104,-56,60]
];
var labelsB = [
  ['0.02',-81.6,87.9,0],['0.02',-72.4,29.5,90],['0.02',101.6,75.8,90],['0.02',131.3,14.6,72],['0.02',-131.9,-52,65],
  ['0.04',-167,-63,-80],['0.04',-62.5,-22,85],['0.04',-22,-30,90],['0.02',-16,-13,90],['0.02',-8.7,-22.5,80],
  ['0.02',-120,-79,-5],['0.04',-79.5,-82,-20],['0.06',-70,-80,-20],['0.08',-59.6,-79,0],['0.10',-87,-65.6,70],['0.12',-79.5,-58,75],
  ['0.04',110,-31,65],['0.02',66,-45,75],['0.06',98,-57,65],['0.08',106.6,-54,65],['0.10',110,-51,50],['0.12',115.8,-44.7,-50],
  ['0.06',158,-76.6,0],['0.04',152,-80,0],['0.02',152,-82.5,0]
];

var thinFont = 'Inter';
var wideFont = 'DejaVu Sans';
var axisColor = '#222';
var arrowLon = 12, arrowLat = 7.5;

function arrowData(rows) {
  var out = [];
  for (var r = 0; r < latTails.length; r++) {
    for (var c = 0; c < lonTails.length; c++) {
      out.push([lonTails[c], latTails[r], rows[r][c]]);
    }
  }
  return out;
}

function renderArrow(params, api) {
  var lon = api.value(0), lat = api.value(1), th = api.value(2) * Math.PI / 180;
  var p0 = api.coord([lon, lat]);
  var p1 = api.coord([lon + arrowLon * Math.cos(th), lat + arrowLat * Math.sin(th)]);
  var a = Math.atan2(p1[1] - p0[1], p1[0] - p0[0]);
  var b1 = [p1[0] - 20 * Math.cos(a - 0.55), p1[1] - 20 * Math.sin(a - 0.55)];
  var b2 = [p1[0] - 20 * Math.cos(a + 0.55), p1[1] - 20 * Math.sin(a + 0.55)];
  return {
    type: 'group',
    children: [
      { type: 'line', shape: { x1: p0[0], y1: p0[1], x2: p1[0], y2: p1[1] }, style: { stroke: '#fff', lineWidth: 4 } },
      { type: 'polyline', shape: { points: [b1, p1, b2] }, style: { stroke: '#fff', lineWidth: 4, fill: null } }
    ]
  };
}

function contourSeries(list, axis) {
  var data = list.map(function (c, i) { return [i]; });
  return {
    type: 'custom',
    xAxisIndex: axis, yAxisIndex: axis,
    clip: true, silent: true, z: 2,
    data: data,
    encode: { x: 0, y: 0 },
    renderItem: function (params, api) {
      var c = list[api.value(0)];
      var pts = c[1].map(function (p) { return api.coord(p); });
      return {
        type: 'polygon',
        shape: { points: pts, smooth: 0.35 },
        style: { fill: bandColors[c[0]], stroke: '#000022', lineWidth: 1 }
      };
    }
  };
}

function coastSeries(axis) {
  return {
    type: 'line', xAxisIndex: axis, yAxisIndex: axis, data: coastline, silent: true, z: 3,
    symbol: 'none', smooth: 0.2, lineStyle: { color: '#0000B0', width: 1.5 }
  };
}

function edgeSeries(axis, top, bottom) {
  return {
    type: 'custom', xAxisIndex: axis, yAxisIndex: axis, silent: true, z: 3, clip: false,
    data: [[top[0], top[1]], [bottom[0], bottom[1]]],
    encode: { y: [0, 1] },
    renderItem: function (params, api) {
      var a = api.coord([-180, api.value(0)]), b = api.coord([180, api.value(1)]);
      return { type: 'rect', shape: { x: a[0] + 2, y: a[1], width: b[0] - a[0] - 4, height: b[1] - a[1] }, style: { fill: '#fff' } };
    }
  };
}

function arrowSeries(rows, axis) {
  return {
    type: 'custom', xAxisIndex: axis, yAxisIndex: axis, silent: true, z: 5, clip: false,
    data: arrowData(rows), encode: { x: 0, y: 1 }, renderItem: renderArrow
  };
}

function labelSeries(list, axis) {
  return {
    type: 'custom', xAxisIndex: axis, yAxisIndex: axis, silent: true, z: 4, clip: false,
    data: list.map(function (l, i) { return [l[1], l[2], i]; }),
    encode: { x: 0, y: 1 },
    renderItem: function (params, api) {
      var l = list[api.value(2)];
      var p = api.coord([l[1], l[2]]);
      return {
        type: 'text', x: p[0], y: p[1], rotation: l[3] * Math.PI / 180,
        style: { text: l[0], fontSize: 44, fontFamily: wideFont, fontWeight: 200, fill: '#000', align: 'center', verticalAlign: 'middle' }
      };
    }
  };
}

function lonAxis(grid, position, labels) {
  return {
    type: 'value', gridIndex: grid, position: position, min: -180, max: 180, interval: 60, z: 6,
    axisLine: { show: false }, splitLine: { show: false },
    axisTick: { show: true, inside: true, length: 22, lineStyle: { color: '#000', width: 1 } },
    minorTick: { show: true, splitNumber: 2, length: 10, lineStyle: { color: '#000', width: 1 } },
    axisLabel: {
      show: labels, margin: 36, fontSize: 54, fontFamily: thinFont, fontWeight: 100, color: axisColor,
      formatter: function (v) { return String(v).replace('-', '\u2212'); }
    },
    name: labels ? 'Longitude (degrees)' : '',
    nameLocation: 'middle', nameGap: 112,
    nameTextStyle: { fontSize: 47, fontFamily: wideFont, fontWeight: 200, color: axisColor }
  };
}

function latAxis(grid, position, labels) {
  return {
    type: 'value', gridIndex: grid, position: position, min: -90, max: 90, interval: 30, z: 6,
    axisLine: { show: false }, splitLine: { show: false },
    axisTick: { show: true, inside: true, length: 31, lineStyle: { color: '#000', width: 1 } },
    minorTick: { show: true, splitNumber: 2, length: 18, lineStyle: { color: '#000', width: 1 } },
    axisLabel: {
      show: labels, margin: 22, fontSize: 54, fontFamily: thinFont, fontWeight: 100, color: axisColor,
      verticalAlignMaxLabel: 'top', verticalAlignMinLabel: 'bottom',
      formatter: function (v) { return String(v).replace('-', '\u2212'); }
    },
    name: labels ? 'Latitude (degrees)' : '',
    nameLocation: 'middle', nameGap: 150, nameRotate: 90,
    nameTextStyle: { fontSize: 47, fontFamily: wideFont, fontWeight: 200, color: axisColor }
  };
}

var titleRich = { b: { fontFamily: 'Liberation Serif', fontSize: 90, fontWeight: 'bold', color: '#000' } };

var option = {
  animation: false,
  backgroundColor: '#fff',
  title: [
    { text: '({b|a}) Old statistics', left: 893, top: 7, textAlign: 'center', textStyle: { fontFamily: 'Liberation Serif', fontSize: 90, fontWeight: 'normal', color: '#000', rich: titleRich } },
    { text: '({b|b}) New (HL) statistics', left: 2735, top: 7, textAlign: 'center', textStyle: { fontFamily: 'Liberation Serif', fontSize: 90, fontWeight: 'normal', color: '#000', rich: titleRich } }
  ],
  grid: [
    { left: 236, top: 167, width: 1461, height: 1199, show: true, backgroundColor: '#0000CC', borderColor: '#0000CC', borderWidth: 4, z: 0 },
    { left: 2047, top: 172, width: 1297, height: 1195, show: true, backgroundColor: '#0000CC', borderColor: '#0000CC', borderWidth: 4, z: 0 },
    { left: 3428, top: 172, width: 69, height: 1195, show: true, borderColor: '#000', borderWidth: 1.5 }
  ],
  xAxis: [
    lonAxis(0, 'bottom', true), lonAxis(1, 'bottom', true),
    { type: 'value', gridIndex: 2, min: 0, max: 1, show: false },
    lonAxis(0, 'top', false), lonAxis(1, 'top', false)
  ],
  yAxis: [
    latAxis(0, 'left', true), latAxis(1, 'left', true),
    {
      type: 'value', gridIndex: 2, position: 'right', min: 0, max: 0.3, interval: 0.02,
      axisLine: { show: false }, axisTick: { show: false }, splitLine: { show: false },
      axisLabel: {
        margin: 14, fontSize: 46, fontFamily: wideFont, fontWeight: 200, color: axisColor,
        verticalAlignMaxLabel: 'top', verticalAlignMinLabel: 'bottom',
        formatter: function (v) { return v.toFixed(2); }
      }
    },
    latAxis(0, 'right', false), latAxis(1, 'right', false)
  ],
  series: [
    contourSeries(contoursA, 0), contourSeries(contoursB, 1),
    coastSeries(0), coastSeries(1),
    edgeSeries(0, [89.9, 88.9], [-89.1, -89.6]), edgeSeries(1, [89.7, 88.7], [-89.1, -89.6]),
    labelSeries(labelsA, 0), labelSeries(labelsB, 1),
    arrowSeries(headingsA, 0), arrowSeries(headingsB, 1),
    {
      type: 'custom', xAxisIndex: 2, yAxisIndex: 2, silent: true, z: 2,
      data: bandColors.map(function (c, i) { return [barTicks[i], barTicks[i + 1], i]; }),
      encode: { y: [0, 1] },
      renderItem: function (params, api) {
        var a = api.coord([0, api.value(1)]), b = api.coord([1, api.value(0)]);
        return { type: 'rect', shape: { x: a[0], y: a[1], width: b[0] - a[0], height: b[1] - a[1] }, style: { fill: bandColors[api.value(2)] } };
      }
    }
  ]
};

var chart = echarts.init(document.getElementById('chart'), null, { renderer: 'canvas' });
chart.setOption(option);
</script>
</body>
</html>
